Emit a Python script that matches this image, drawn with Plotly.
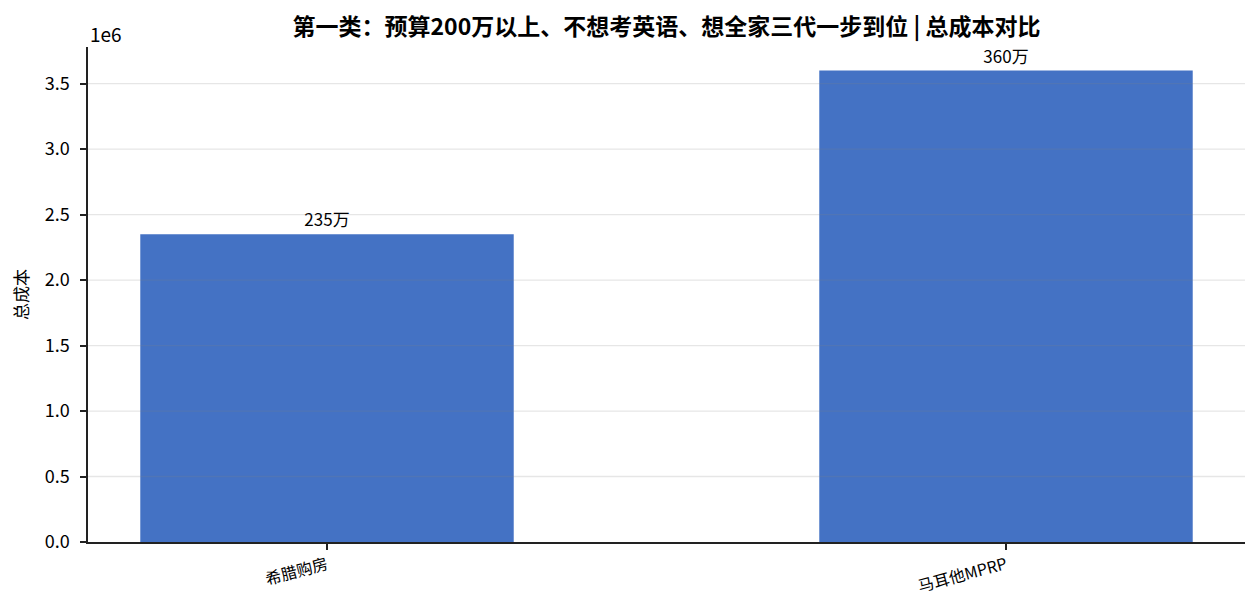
import plotly.graph_objects as go

# data
categories = ["希腊购房", "马耳他MPRP"]
total_cost = [2350000, 3600000]
bar_labels = ["235万", "360万"]
y_tickvals = [0, 500000, 1000000, 1500000, 2000000, 2500000, 3000000, 3500000]
y_ticktext = ["0.0", "0.5", "1.0", "1.5", "2.0", "2.5", "3.0", "3.5"]

font_family = "Noto Sans CJK SC, Noto Sans, sans-serif"

fig = go.Figure()
fig.add_trace(go.Bar(
    x=categories,
    y=total_cost,
    width=0.55,
    marker=dict(color="#4472C4", line=dict(width=0)),
    text=bar_labels,
    textposition="outside",
    textfont=dict(size=17, color="#000000"),
    cliponaxis=False,
))

fig.update_layout(
    width=1260, height=615,
    paper_bgcolor="white", plot_bgcolor="white",
    font=dict(family=font_family, color="#000000"),
    margin=dict(l=80, r=23, t=39, b=81),
    showlegend=False,
    title=dict(
        text="<b>第一类：预算200万以上、不想考英语、想全家三代一步到位 | 总成本对比</b>",
        x=0.5, xref="paper", xanchor="center",
        y=1 - 19 / 615, yanchor="middle",
        font=dict(size=23, color="#000000"),
    ),
)

fig.update_xaxes(
    range=[-0.352, 1.352],
    showline=True, linecolor="#222222", linewidth=1.5,
    ticks="outside", ticklen=6, tickcolor="#222222", tickwidth=1.5,
    tickangle=-15,
    tickfont=dict(size=16),
    showgrid=False,
)

fig.update_yaxes(
    range=[0, 3780000],
    tickvals=y_tickvals, ticktext=y_ticktext,
    showline=True, linecolor="#222222", linewidth=1.5,
    ticks="outside", ticklen=6, tickcolor="#222222", tickwidth=1.5,
    tickfont=dict(size=18),
    ticklabelstandoff=7,
    showgrid=False,
    zeroline=False,
    title=dict(text="总成本", font=dict(size=17), standoff=12),
)

# light grid lines drawn over the bars
for v in y_tickvals[1:]:
    fig.add_shape(
        type="line", xref="paper", yref="y", x0=0, x1=1, y0=v, y1=v,
        line=dict(color="rgba(128,128,128,0.2)", width=1.3),
        layer="above",
    )

fig.add_annotation(
    text="1e6", xref="paper", yref="paper", x=0, y=1,
    xanchor="left", yanchor="bottom", showarrow=False,
    font=dict(size=19), yshift=-2,
)

fig.write_html("out.html")
